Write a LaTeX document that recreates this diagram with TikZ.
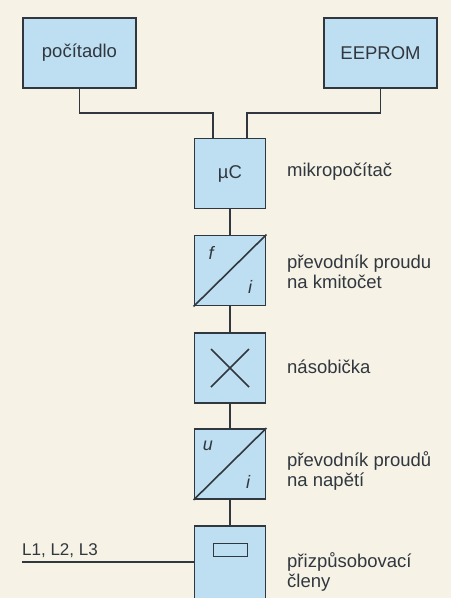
\documentclass[tikz,border=0pt]{standalone}
\usepackage{fontspec}
\setmainfont{Liberation Sans}
\definecolor{paper}{HTML}{F6F2E6}
\definecolor{boxfill}{HTML}{BEDFF2}
\definecolor{ink}{HTML}{31373E}
\begin{document}
\begin{tikzpicture}[x=1pt,y=-1pt,
  blk/.style={draw=ink, line width=1.9pt, fill=boxfill, minimum width=71pt,
    minimum height=70pt, inner sep=0pt, text=ink,
    font=\fontsize{18.5}{20}\selectfont},
  wide/.style={blk, minimum width=113pt},
  wire/.style={draw=ink, line width=1.9pt},
  lbl/.style={anchor=west, align=left, text=ink, inner sep=0pt,
    font=\fontsize{18.5}{20}\selectfont},
  sym/.style={text=ink, inner sep=0pt, font=\fontsize{18}{18}\selectfont\itshape}
]
\clip (0,0) rectangle (451,598);
\fill[paper] (0,0) rectangle (451,598);

% peripheral blocks
\node[wide] (poc) at (79.5,53) {počítadlo};
\node[wide] (eep) at (380.5,53) {EEPROM};

% signal chain
\node[blk] (muc) at (230,173.5) {µC};
\node[blk] (fi)  at (230,270.5) {};
\node[blk] (mul) at (230,368) {};
\node[blk] (ui)  at (230,464) {};
\node[blk, minimum height=100pt, anchor=north] (adp) at (230,525) {};

% bus to the microcomputer
\coordinate (mucL) at ([xshift=-17pt]muc.north);
\coordinate (mucR) at ([xshift=17pt]muc.north);
\draw[wire] (poc.south) -- ++(0,24) -| (mucL);
\draw[wire] (eep.south) -- ++(0,24) -| (mucR);

% chain connections
\draw[wire] (muc.south) -- (fi.north);
\draw[wire] (fi.south) -- (mul.north);
\draw[wire] (mul.south) -- (ui.north);
\draw[wire] (ui.south) -- (adp.north);

% f/i converter symbol
\draw[wire, line width=1.6pt] (fi.south west) -- (fi.north east);
\node[sym] (ff) at (211,253) {f};
\node[sym] (fii) at (250,287) {i};

% multiplier symbol
\draw[wire, line width=1.6pt] ([shift={(-19,-19)}]mul.center) -- ([shift={(19,19)}]mul.center);
\draw[wire, line width=1.6pt] ([shift={(-19,19)}]mul.center) -- ([shift={(19,-19)}]mul.center);

% u/i converter symbol
\draw[wire, line width=1.6pt] (ui.south west) -- (ui.north east);
\node[sym] (uu) at (208,446) {u};
\node[sym] (uii) at (248,482) {i};

% adapter symbol
\node[draw=ink, line width=1.6pt, minimum width=34pt, minimum height=13pt, inner sep=0pt] (slot) at (230.5,550) {};

% phase input
\coordinate (lin) at (22,562);
\draw[wire] (lin) -- (lin -| adp.west);
\node[anchor=base west, inner sep=0pt, text=ink, font=\fontsize{17}{17}\selectfont] (phases) at (22,555) {L1, L2, L3};

% descriptions
\node[lbl] (tmuc) at (287,172) {mikropočítač};
\node[lbl] (tfi)  at (287,272) {převodník proudu\\na kmitočet};
\node[lbl] (tmul) at (287,367) {násobička};
\node[lbl] (tui)  at (287,471) {převodník proudů\\na napětí};
\node[lbl] (tadp) at (287,572) {přizpůsobovací\\členy};
\end{tikzpicture}
\end{document}
